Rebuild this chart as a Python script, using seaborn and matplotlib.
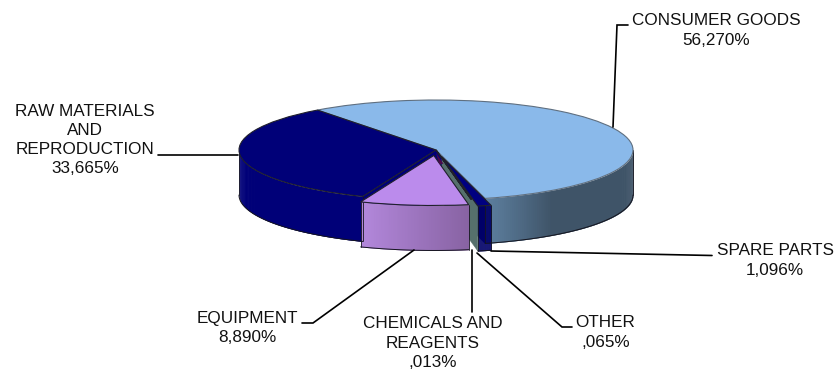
"""Exports by product group, 3D style pie drawn from flat seaborn/matplotlib parts"""

import numpy as np
import matplotlib
matplotlib.use('Agg')
import matplotlib.pyplot as plt
from matplotlib.colors import to_rgb
import seaborn as sns

groups = ['CONSUMER GOODS', 'SPARE PARTS', 'OTHER', 'CHEMICALS AND\nREAGENTS',
          'EQUIPMENT', 'RAW MATERIALS\nAND\nREPRODUCTION']
shares = [56.270, 1.096, 0.065, 0.013, 8.890, 33.665]
share_text = ['56,270%', '1,096%', ',065%', ',013%', '8,890%', '33,665%']
explode = [0.0, 0.14, 0.0, 0.0, 0.11, 0.0]

top_colors = sns.color_palette(['#8ab9ea', '#000080', '#56706c', '#4a0a4a', '#bb8bec', '#000078'])
wall_left = ['#5d7f9f', '#000068', '#56706c', '#4a0a4a', '#b388dc', '#000078']
wall_right = ['#3f5468', '#000068', '#56706c', '#4a0a4a', '#8863a3', '#000078']
wall_blend = [0.28, 1.0, 1.0, 1.0, 1.0, 1.0]  # part of the arc the fade takes
FACE_GREEN = '#56706c'

START_ANGLE = 127.0
RX, RY = 197.0, 50.0   # pixels per unit of the ellipse
CX, CY = 436.0, 150.0  # centre of the top face, in pixels
DEPTH = 45.0 / RY

sns.set_theme(style='white')
plt.rcParams['font.family'] = ['Liberation Sans', 'DejaVu Sans']


def px(x, y):
    """picture pixel -> data coords"""
    return (x - CX) / RX, (CY - y) / RY


def draw_wall(ax, a1, a2, off, c_left, c_right, blend):
    """outer rim of one slice, a1 > a2 in degrees, front half only"""
    lo, hi = max(a2, -180.0), min(a1, 0.0)
    if hi <= lo:
        return
    edges = np.linspace(lo, hi, 121)
    left = np.array(to_rgb(c_left))
    right = np.array(to_rgb(c_right))
    th_all = np.radians(edges)
    for i in range(len(edges) - 1):
        th = th_all[i:i + 3]  # one step of overlap so no seams show
        xs = np.cos(th) + off[0]
        top = np.sin(th) + off[1]
        t = min(1.0, (i / (len(edges) - 2)) / blend)
        ax.fill_between(xs, top - DEPTH, top, color=left + (right - left) * t,
                        lw=0, zorder=2)
    ax.plot(np.cos(th_all) + off[0], np.sin(th_all) + off[1] - DEPTH,
            color='#15151f', lw=0.7, zorder=2.5)
    for a in (lo, hi):
        th = np.radians(a)
        x0, y0 = np.cos(th) + off[0], np.sin(th) + off[1]
        ax.plot([x0, x0], [y0, y0 - DEPTH], color='#15151f', lw=0.6, zorder=2.5)


def cut_face(ax, angle, off, color, zorder=1.5):
    """radial side of a slice, apex to rim, shown where a slice is pulled out"""
    th = np.radians(angle)
    x1, y1 = np.cos(th) + off[0], np.sin(th) + off[1]
    ax.fill([off[0], x1, x1, off[0]],
            [off[1], y1, y1 - DEPTH, off[1] - DEPTH],
            color=color, lw=0.3, zorder=zorder)


def main():
    fig, ax = plt.subplots(figsize=(8.4, 3.7), dpi=100)
    ax.set_position([0, 0, 1, 1])

    # slice angles, clockwise from the start angle
    angles = START_ANGLE - np.cumsum([0] + shares) * 360.0 / sum(shares)
    mids = (angles[:-1] + angles[1:]) / 2
    offsets = [(e * np.cos(np.radians(m)), e * np.sin(np.radians(m)))
               for e, m in zip(explode, mids)]

    cut_face(ax, angles[5], offsets[5], top_colors[5])
    cut_face(ax, angles[1], (0, 0), top_colors[1])
    cut_face(ax, angles[2], offsets[1], FACE_GREEN, zorder=1.8)

    for i in [5, 0, 1, 4]:
        draw_wall(ax, angles[i], angles[i + 1], offsets[i], wall_left[i],
                  wall_right[i], wall_blend[i])

    wedges, _ = ax.pie(shares, startangle=START_ANGLE, counterclock=False,
                       colors=top_colors, explode=explode, radius=1,
                       wedgeprops={'edgecolor': '#20202c', 'linewidth': 0.8})
    for w in wedges:
        w.set_zorder(3)
    wedges[0].set_edgecolor('#5f6f80')

    # small dark sliver at the tip of the equipment slice
    sliver, _ = ax.pie([1.6, 98.4], startangle=-80, counterclock=False, radius=0.22,
                       center=(0.0, -0.06), colors=[top_colors[3], 'none'],
                       wedgeprops={'linewidth': 0})
    for w in sliver:
        w.set_zorder(3.5)

    ax.set_aspect('auto')
    ax.set_xlim(px(0, 0)[0], px(840, 0)[0])
    ax.set_ylim(px(0, 370)[1], px(0, 0)[1])

    # leader lines
    leaders = [
        [(628, 25), (617, 25), (613, 127)],
        [(491, 251), (712, 255.5)],
        [(477, 253), (562, 327), (572, 327)],
        [(471.5, 250), (471.5, 312)],
        [(414, 250), (313, 323), (302, 323)],
        [(158, 155), (238, 155)],
    ]
    for pts in leaders:
        ax.plot(*zip(*[px(*p) for p in pts]), color='black', lw=1.2, zorder=4,
                solid_joinstyle='miter')

    # label centres
    label_pos = [(716.5, 30.5), (775, 260.5), (605.5, 332.5), (432.5, 343), (247, 328), (85, 140)]
    for group, value, pos in zip(groups, share_text, label_pos):
        ax.text(*px(*pos), f'{group}\n{value}', ha='center', va='center', fontsize=12.3,
                color='#111111', linespacing=1.36, zorder=5)

    fig.savefig('out.png', dpi=100)
    plt.close(fig)


if __name__ == "__main__":
    main()
